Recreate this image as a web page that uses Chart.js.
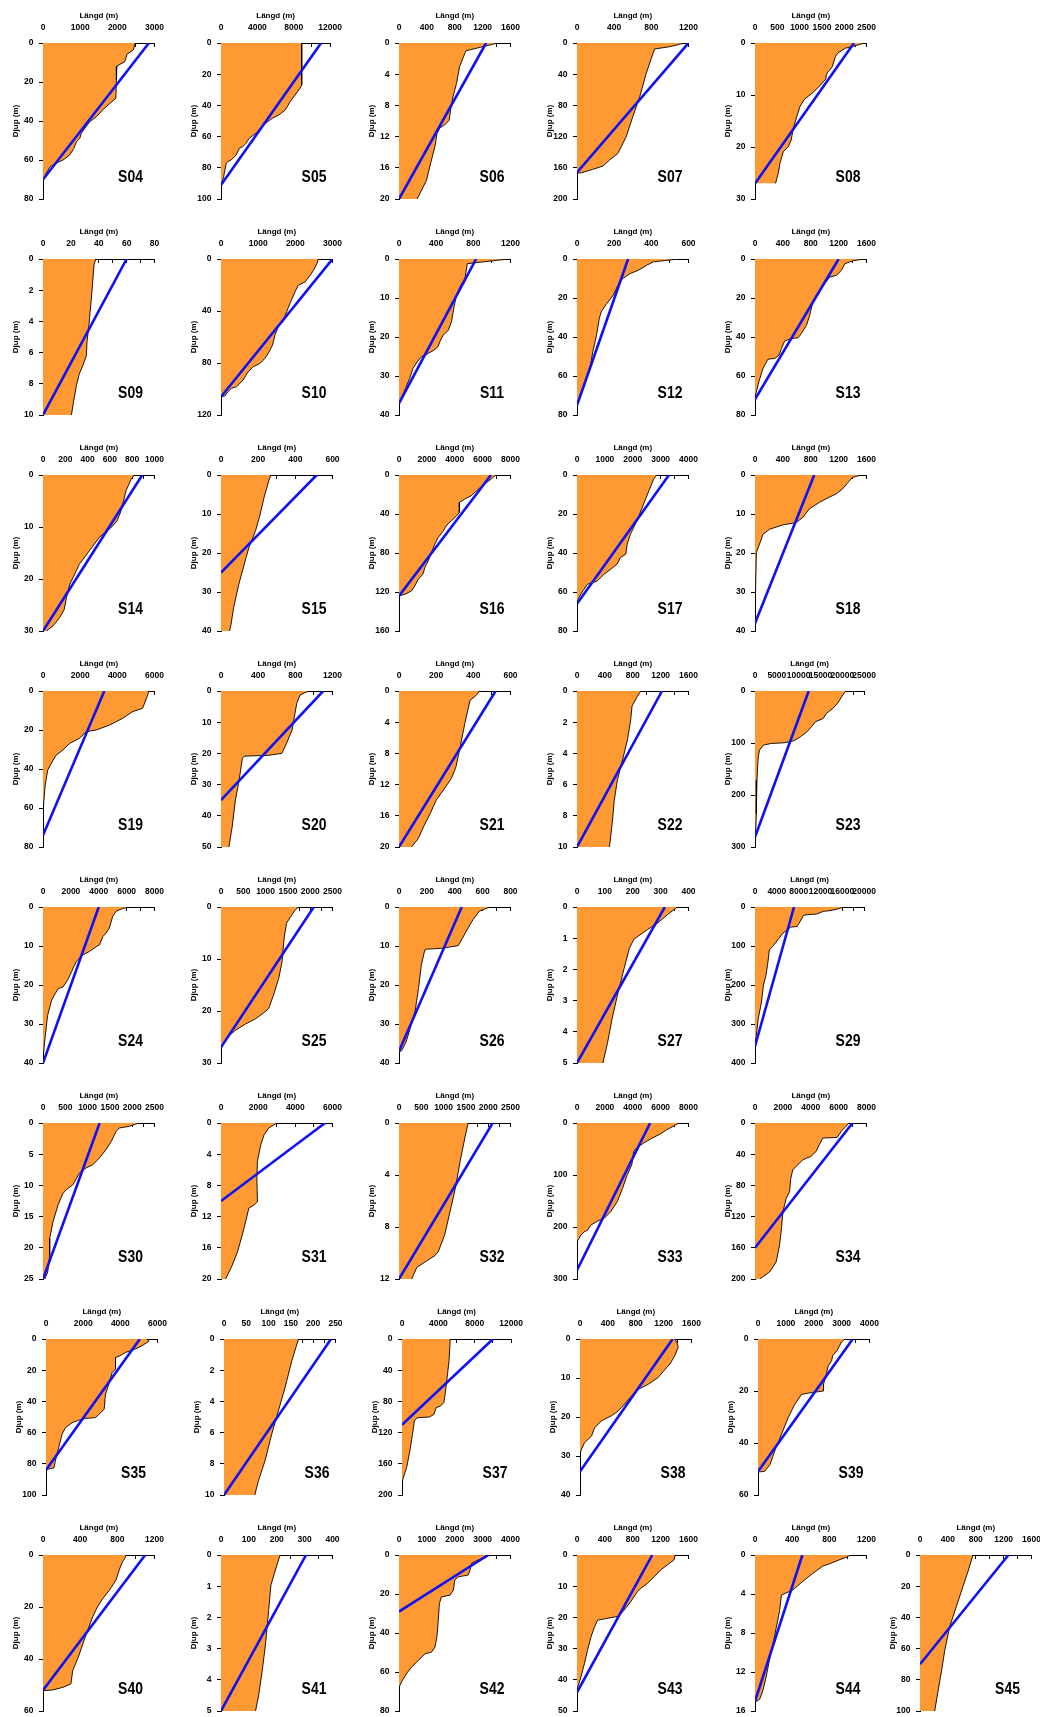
<!DOCTYPE html>
<html>
<head>
<meta charset="utf-8">
<script src="https://cdn.jsdelivr.net/npm/chart.js@4.4.1/dist/chart.umd.min.js"></script>
<style>
html, body { margin: 0; padding: 0; background: #fff; }
body { width: 1040px; height: 1717px; position: relative; overflow: hidden; }
canvas { position: absolute; }
</style>
</head>
<body>
<script>
// station order, left to right, top to bottom
const stations = ['S04', 'S05', 'S06', 'S07', 'S08',
    'S09', 'S10', 'S11', 'S12', 'S13',
    'S14', 'S15', 'S16', 'S17', 'S18',
    'S19', 'S20', 'S21', 'S22', 'S23',
    'S24', 'S25', 'S26', 'S27', 'S29',
    'S30', 'S31', 'S32', 'S33', 'S34',
    'S35', 'S36', 'S37', 'S38', 'S39',
    'S40', 'S41', 'S42', 'S43', 'S44', 'S45'];

// axis ranges (Längd = x, Djup = y)
const xMax = [3000, 12000, 1600, 1200, 2500, 80, 3000, 1200, 600, 1600,
    1000, 600, 8000, 4000, 1600, 6000, 1200, 600, 1600, 25000,
    8000, 2500, 800, 400, 20000, 2500, 6000, 2500, 8000, 8000,
    6000, 250, 12000, 1600, 4000, 1200, 400, 4000, 1600, 1200, 1600];
const xLabelStep = [1000, 4000, 400, 400, 500, 20, 1000, 400, 200, 400,
    200, 200, 2000, 1000, 400, 2000, 400, 200, 400, 5000,
    2000, 500, 200, 100, 4000, 500, 2000, 500, 2000, 2000,
    2000, 50, 4000, 400, 1000, 400, 100, 1000, 400, 400, 400];
const yMax = [80, 100, 20, 200, 30, 10, 120, 40, 80, 80,
    30, 40, 160, 80, 40, 80, 50, 20, 10, 300,
    40, 30, 40, 5, 400, 25, 20, 12, 300, 200,
    100, 10, 200, 40, 60, 60, 5, 80, 50, 16, 100];
const yStep = [20, 20, 4, 40, 10, 2, 40, 10, 20, 20,
    10, 10, 40, 20, 10, 20, 10, 4, 2, 100,
    10, 10, 10, 1, 100, 5, 4, 4, 100, 40,
    20, 2, 40, 10, 20, 20, 1, 20, 10, 4, 20];

// blue line: length at the surface, depth where it meets the axis
const blueTop = [2850, 11000, 1250, 1200, 2220, 60, 3000, 830, 275, 1200,
    890, 515, 6600, 3300, 850, 3300, 1100, 520, 1220, 12300,
    4000, 2080, 450, 315, 7150, 1270, 5600, 2100, 5250, 7000,
    5050, 240, 10000, 1330, 3400, 1100, 305, 3200, 1080, 510, 1270];
const blueDepth = [70, 91, 20, 166, 27, 10, 106, 37, 75, 72,
    30, 25, 124, 66, 38, 74, 35, 20, 10, 281,
    40, 27, 37, 5, 357, 25, 10, 12, 283, 160,
    84, 10, 110, 34, 51, 52, 5, 29, 44, 15, 70];

// length (m) at depth (m) for each station
const S04_depth = [0, 3.6, 5.8, 9.6, 11.8, 19, 28.4, 31, 34, 37.8, 40.3, 46.3, 48.9, 50.6, 54, 57.4, 60, 62, 63.7, 66.8, 70];
const S04_length = [2480, 2430, 2260, 2200, 1990, 1975, 1960, 1800, 1620, 1440, 1260, 1030, 990, 900, 830, 720, 540, 310, 180, 90, 0];
const S05_depth = [0, 26.9, 29, 33.3, 37.6, 43, 46.2, 48.3, 51.5, 54.7, 57.9, 61.1, 64.3, 66.5, 67.5, 71.8, 75, 76, 77.1, 85.7, 91];
const S05_length = [8870, 8870, 8690, 8150, 7600, 7060, 6340, 5620, 4900, 4360, 3820, 3100, 2740, 2380, 2020, 1660, 1120, 760, 580, 290, 0];
const S06_depth = [0, 1.0, 3.0, 5.2, 6.9, 8.6, 9.9, 10.5, 10.9, 11.6, 13.3, 15.9, 17.6, 20];
const S06_length = [1420, 960, 870, 825, 775, 740, 720, 655, 585, 545, 515, 440, 395, 260];
const S07_depth = [0, 4.7, 7.7, 19.7, 38.9, 68.8, 94.5, 120, 141.5, 150, 157.7, 162, 166.3, 167];
const S07_length = [1160, 1000, 835, 800, 745, 675, 600, 530, 440, 350, 280, 170, 50, 0];
const S08_depth = [0, 0.4, 1.0, 1.9, 2.6, 4.6, 5.8, 7.0, 8.5, 9.7, 10.8, 12.2, 14.2, 16.4, 18.7, 19.9, 20.9, 23.1, 25.1, 27];
const S08_length = [2450, 2300, 2030, 1860, 1805, 1730, 1615, 1580, 1425, 1275, 1110, 1010, 935, 860, 810, 750, 635, 560, 520, 460];
const S09_depth = [0, 0.4, 2.5, 4.2, 5.3, 6.2, 6.8, 7.4, 8.1, 9.1, 10];
const S09_length = [37.8, 36.6, 34.7, 33, 31.6, 31.1, 28.7, 25.9, 24, 22, 20.4];
const S10_depth = [0, 3.6, 8.7, 12.5, 17.7, 20.2, 25.3, 34.3, 40.7, 48.4, 52.2, 58.6, 66.3, 72.7, 76.5, 80.4, 82.9, 86.8, 93.1, 98.3, 99.5, 102, 105.4, 106];
const S10_length = [2620, 2580, 2490, 2400, 2260, 2080, 1990, 1855, 1765, 1660, 1540, 1450, 1385, 1270, 1180, 1045, 865, 730, 595, 415, 280, 190, 100, 0];
const S11_depth = [0, 1.2, 5.0, 7.2, 9.3, 11.9, 16.1, 18.3, 19.5, 21.2, 22.5, 23.4, 24.2, 25.1, 26.4, 28.1, 30.6, 33.2, 35.7, 37];
const S11_length = [1180, 735, 710, 655, 620, 595, 565, 530, 475, 440, 420, 375, 315, 240, 195, 150, 115, 70, 25, 0];
const S12_depth = [0, 1.5, 3.2, 5.8, 7.5, 10.1, 13.5, 18.6, 22.9, 27.1, 30.5, 39.1, 47.6, 56.1, 64.7, 71.5, 74];
const S12_length = [545, 410, 375, 330, 285, 245, 220, 195, 160, 130, 120, 105, 85, 70, 40, 15, 0];
const S13_depth = [0, 0.85, 2.4, 5.8, 8.4, 9.2, 13.5, 18.6, 22.9, 28.8, 33.9, 38.2, 40.4, 40.8, 42.1, 45.9, 49.3, 51, 51.4, 56.1, 63, 68, 71];
const S13_length = [1570, 1410, 1290, 1240, 1170, 1075, 975, 880, 825, 785, 740, 665, 620, 520, 425, 380, 345, 285, 185, 115, 55, 20, 0];
const S14_depth = [0, 0.8, 3.0, 6.9, 8.8, 9.8, 10.4, 12, 14.6, 17.2, 19.7, 21, 23.6, 25.9, 27.4, 29, 30];
const S14_length = [820, 790, 745, 700, 665, 625, 595, 505, 415, 325, 270, 240, 210, 190, 150, 90, 30];
const S15_depth = [0, 1.5, 5.7, 10, 14.3, 18.6, 22.9, 28, 34, 38.3, 40];
const S15_length = [268, 257, 232, 211, 186, 150, 125, 96, 68, 54, 46];
const S16_depth = [0, 4.1, 9.3, 16.1, 21.2, 24.7, 28.1, 38.4, 41.8, 46.9, 52.1, 57.2, 64.1, 70.9, 79.5, 88, 94.9, 101.8, 106.9, 113.7, 118.9, 122.3, 124];
const S16_length = [6950, 6620, 6140, 5570, 5190, 4710, 4330, 4330, 4140, 3760, 3380, 3190, 2810, 2570, 2330, 2100, 1860, 1710, 1380, 1140, 900, 430, 0];
const S17_depth = [0, 2.1, 8.1, 14.9, 23.5, 30.3, 35.5, 40.6, 42.3, 45.7, 48.3, 50.9, 54.3, 55.2, 56, 59.4, 62.9, 65.4];
const S17_length = [2860, 2750, 2580, 2390, 2150, 1920, 1800, 1750, 1560, 1440, 1210, 970, 730, 570, 380, 210, 70, 0];
const S18_depth = [0, 0.6, 1.9, 3.6, 4.9, 5.7, 7.0, 8.7, 10.9, 12.2, 12.8, 13.9, 15.2, 17.7, 19.9, 29.7, 33];
const S18_length = [1530, 1400, 1335, 1255, 1160, 1065, 925, 780, 685, 590, 400, 210, 115, 65, 20, 8, 0];
const S19_depth = [0, 2.9, 8.9, 10.6, 14, 17.5, 20, 20.9, 24.3, 26.9, 30.3, 32.9, 35.5, 40.6, 49.2, 57.7, 69.7];
const S19_length = [5700, 5600, 5360, 4820, 4290, 3570, 2860, 2320, 1960, 1430, 1070, 710, 540, 250, 110, 35, 0];
const S20_depth = [0, 1.3, 4, 12.5, 16.8, 20, 20.6, 20.8, 20.9, 21.6, 28.6, 35, 43.6, 50];
const S20_length = [945, 850, 815, 765, 705, 655, 515, 335, 250, 230, 195, 155, 120, 85];
const S21_depth = [0, 0.5, 1.2, 4.2, 7.2, 9.7, 11.2, 12.7, 14, 15.7, 17.4, 18.9, 20];
const S21_length = [432, 418, 382, 354, 329, 307, 282, 239, 200, 168, 132, 104, 68];
const S22_depth = [0, 0.36, 0.96, 1.86, 3.1, 4.4, 5.7, 7.0, 8.5, 10];
const S22_length = [915, 865, 790, 770, 725, 655, 580, 535, 505, 465];
const S23_depth = [0, 7.7, 23.8, 33.4, 43, 52.7, 59.1, 68.7, 78.4, 88, 95.7, 99.6, 100.9, 104, 113.7, 126.6, 171.5, 235.8, 274, 287];
const S23_length = [20800, 20100, 18900, 17860, 16370, 15630, 13840, 12950, 11900, 10420, 8930, 6700, 3720, 1930, 1040, 740, 450, 300, 150, 0];
const S24_depth = [0, 0.4, 1.1, 2.4, 5.4, 6.7, 7.6, 9.7, 10.2, 11.4, 12.3, 14, 16.6, 18.8, 20.5, 20.9, 22.6, 23.9, 27.8, 33.8, 37.2, 39.8];
const S24_length = [6200, 5710, 5240, 5000, 4760, 4520, 4290, 4050, 3810, 3330, 2860, 2380, 2050, 1760, 1430, 1100, 810, 620, 330, 140, 50, 0];
const S25_depth = [0, 0.5, 1.5, 3.1, 6.0, 10.5, 13.7, 17, 19.5, 20.3, 21.5, 22.5, 23.7, 25, 27];
const S25_length = [1740, 1670, 1590, 1470, 1415, 1370, 1295, 1175, 1070, 965, 775, 550, 325, 150, 0];
const S26_depth = [0, 1.1, 3.3, 5.4, 8.0, 9.9, 10.2, 10.6, 10.8, 11, 14.9, 20.9, 26.9, 31.2, 34.7, 36.8, 37.2];
const S26_length = [650, 575, 530, 495, 455, 425, 375, 305, 200, 185, 160, 140, 115, 80, 50, 20, 0];
const S27_depth = [0, 0.25, 0.52, 0.73, 0.95, 1.02, 1.32, 1.97, 2.83, 3.58, 4.33, 5];
const S27_length = [360, 324, 288, 252, 217, 205, 188, 169, 145, 126, 110, 93];
const S29_depth = [0, 5.2, 9.5, 11.2, 18.1, 19.8, 21.5, 41.3, 49.9, 51.6, 67.1, 84.3, 101.5, 110.1, 140.2, 174.6, 200.4, 243.4, 286.5, 329.5, 355];
const S29_length = [16300, 15100, 13700, 12500, 11300, 9500, 8900, 8100, 7700, 6550, 5100, 4170, 3210, 2620, 2380, 2020, 1550, 1190, 600, 240, 0];
const S30_depth = [0, 0.54, 0.8, 1.34, 2.95, 4.3, 5.6, 6.7, 7.2, 8.0, 9.9, 10.7, 11.3, 13.1, 15.8, 18.5, 21.2, 23.9, 25];
const S30_length = [2150, 1930, 1710, 1640, 1530, 1410, 1265, 1115, 965, 820, 670, 520, 445, 340, 225, 150, 150, 105, 40];
const S31_depth = [0, 0.64, 1.5, 2.8, 4.9, 7.1, 10.1, 10.5, 10.9, 12.7, 14.4, 16.5, 18.2, 20];
const S31_length = [3000, 2570, 2320, 2140, 1960, 1930, 1960, 1790, 1500, 1320, 1140, 890, 610, 250];
const S32_depth = [0, 1.16, 2.96, 5.0, 6.8, 8.6, 9.9, 10.2, 10.7, 11.1, 12];
const S32_length = [1550, 1475, 1370, 1265, 1145, 1025, 880, 805, 580, 400, 285];
const S33_depth = [0, 6.4, 12.9, 21.2, 29, 38.6, 47, 54.7, 80.5, 99.8, 125.5, 151.3, 170.6, 183.5, 188.6, 196.4, 206, 209.2, 215.7, 228.5];
const S33_length = [7300, 6910, 6440, 5970, 5400, 4780, 4310, 4070, 3930, 3600, 3270, 2890, 2410, 1940, 1470, 990, 760, 520, 280, 0];
const S34_depth = [0, 4.3, 10.7, 18.5, 19.3, 27.9, 36.5, 42.9, 47.2, 55.8, 60.1, 70.8, 88, 96.6, 113.7, 135.2, 156.7, 178.1, 191, 200];
const S34_length = [6750, 6520, 6190, 5900, 4860, 4620, 4380, 4000, 3430, 2950, 2710, 2570, 2480, 2240, 2000, 1900, 1760, 1520, 1050, 330];
const S35_depth = [0, 1.5, 4.3, 6.4, 8.6, 10.7, 11.8, 19.3, 21.5, 29, 35.4, 45.1, 48.3, 50.4, 50.9, 52.1, 53.7, 56.9, 61.2, 69.7, 78.3, 82.6, 83.7];
const S35_length = [5450, 5530, 5170, 4820, 4280, 3990, 3740, 3740, 3560, 3380, 3200, 3130, 2840, 2660, 2120, 1760, 1400, 1040, 860, 680, 500, 430, 0];
const S36_depth = [0, 1.4, 3.1, 4.6, 6.1, 7.8, 9.1, 10];
const S36_length = [167, 152, 137, 122, 107, 92, 77, 69];
const S37_depth = [0, 27.9, 49.4, 70.8, 81.5, 85.8, 88, 96.6, 100, 100.9, 104.3, 122.3, 143.8, 165.2, 178.1, 184.6];
const S37_length = [5300, 5170, 4960, 4740, 4600, 4240, 3740, 3520, 3020, 1730, 1370, 1150, 860, 500, 140, 0];
const S38_depth = [0, 0.9, 2.1, 4.3, 6.4, 8.2, 9.9, 11.6, 12.9, 14.6, 16.7, 18.5, 19.7, 21, 21.9, 22.7, 24.9, 26.6, 28.3, 29.6];
const S38_length = [1360, 1390, 1410, 1360, 1290, 1200, 1120, 980, 835, 740, 640, 545, 450, 305, 260, 210, 165, 65, 20, 0];
const S39_depth = [0, 1.3, 4.5, 6.4, 8.4, 10.3, 14.2, 17.4, 20, 20.6, 21.3, 25.1, 30.3, 36.7, 43.1, 48.3, 50.9, 51.1, 51.3];
const S39_length = [3110, 2990, 2830, 2680, 2640, 2520, 2440, 2350, 2350, 1920, 1560, 1320, 1080, 840, 600, 430, 240, 50, 0];
const S40_depth = [0, 1.3, 2.6, 5.8, 9.7, 13.5, 16.7, 20, 23.8, 29, 34.1, 39.3, 44.4, 49.6, 50.9, 51.9, 52.2];
const S40_length = [895, 880, 855, 820, 785, 715, 645, 585, 535, 480, 430, 380, 320, 300, 215, 105, 0];
const S41_depth = [0, 0.48, 0.97, 1.77, 2.84, 3.7, 4.45, 5];
const S41_length = [212, 195, 179, 171, 160, 148, 136, 124];
const S42_depth = [0, 1.7, 2.6, 4.3, 7.7, 10.3, 11.2, 12.9, 18, 20.6, 21.5, 24.9, 35.2, 42.1, 47.2, 49.8, 50.7, 54.1, 57.5, 61, 64.4, 67.8];
const S42_length = [3250, 3070, 2830, 2600, 2550, 2480, 2120, 2000, 1950, 1830, 1520, 1450, 1400, 1360, 1290, 1170, 930, 690, 450, 260, 120, 0];
const S43_depth = [0, 1.6, 3.2, 4.8, 7.0, 9.1, 10.7, 11.8, 15, 17.7, 19.6, 19.9, 20.4, 20.9, 23.1, 26.3, 30.6, 34.9, 39.2, 42.4, 43.5];
const S43_length = [1410, 1390, 1295, 1200, 1105, 1010, 915, 865, 770, 675, 600, 535, 410, 295, 250, 200, 150, 105, 55, 10, 0];
const S44_depth = [0, 0.24, 0.5, 0.86, 1.13, 1.9, 2.7, 3.6, 4.1, 5.7, 7.4, 9.1, 10.8, 12.5, 13.9, 14.8, 15.1];
const S44_length = [1030, 980, 905, 815, 730, 620, 515, 405, 285, 265, 230, 195, 155, 120, 85, 50, 0];
const S45_depth = [0, 9.7, 20.4, 33.3, 46.1, 61.2, 74, 86.9, 99.8, 100];
const S45_length = [760, 695, 615, 520, 425, 355, 310, 260, 212, 210];

const depthSets = [S04_depth, S05_depth, S06_depth, S07_depth, S08_depth, S09_depth, S10_depth, S11_depth, S12_depth, S13_depth,
    S14_depth, S15_depth, S16_depth, S17_depth, S18_depth, S19_depth, S20_depth, S21_depth, S22_depth, S23_depth,
    S24_depth, S25_depth, S26_depth, S27_depth, S29_depth, S30_depth, S31_depth, S32_depth, S33_depth, S34_depth,
    S35_depth, S36_depth, S37_depth, S38_depth, S39_depth, S40_depth, S41_depth, S42_depth, S43_depth, S44_depth, S45_depth];
const lengthSets = [S04_length, S05_length, S06_length, S07_length, S08_length, S09_length, S10_length, S11_length, S12_length, S13_length,
    S14_length, S15_length, S16_length, S17_length, S18_length, S19_length, S20_length, S21_length, S22_length, S23_length,
    S24_length, S25_length, S26_length, S27_length, S29_length, S30_length, S31_length, S32_length, S33_length, S34_length,
    S35_length, S36_length, S37_length, S38_length, S39_length, S40_length, S41_length, S42_length, S43_length, S44_length, S45_length];

var FONT = '"Liberation Sans", Arial, Helvetica, sans-serif';
var ORANGE = '#FF9933';
var BLUE = '#1010F5';
// plot-area corners on the page
var colLeft = [43, 221, 399, 577, 755, 920];
var rowTop = [43, 259, 475, 691, 907, 1123, 1339, 1555];
var PLOT_W = 111.5, PLOT_H = 156, CELL_W = 178, CELL_H = 216, AX = 43;

function isMultiple(v, step) {
    var r = v / step;
    return Math.abs(r - Math.round(r)) < 1e-6;
}

// station name in the lower right of the plot
var stationLabel = {
    id: 'stationLabel',
    afterDraw: function (chart, args, opts) {
        var ctx = chart.ctx, a = chart.chartArea;
        ctx.save();
        ctx.translate(a.left + opts.dx, a.top + 139);
        ctx.scale(0.82, 1);
        ctx.font = 'bold 17px ' + FONT;
        ctx.fillStyle = '#000';
        ctx.textAlign = 'center';
        ctx.textBaseline = 'alphabetic';
        ctx.fillText(opts.text, 0, 0);
        ctx.restore();
    }
};

function drawPanel(cv, i, col) {
    var depths = depthSets[i], lengths = lengthSets[i];
    var curve = depths.map(function (d, k) { return {x: lengths[k], y: d}; });
    var cone = [{x: blueTop[i], y: 0}, {x: 0, y: blueDepth[i]}];
    var labStep = xLabelStep[i];

    new Chart(cv, {
        type: 'line',
        data: {
            datasets: [
                {
                    data: cone,
                    borderColor: BLUE,
                    borderWidth: 2.6,
                    pointRadius: 0,
                    fill: false,
                    order: 0
                },
                {
                    data: curve,
                    borderColor: '#000',
                    borderWidth: 0.9,
                    backgroundColor: ORANGE,
                    pointRadius: 0,
                    tension: 0,
                    fill: 'origin',
                    order: 1
                }
            ]
        },
        options: {
            indexAxis: 'y',
            responsive: false,
            animation: false,
            events: [],
            layout: {
                padding: {left: 0, top: 0, right: CELL_W - AX - PLOT_W, bottom: CELL_H - AX - PLOT_H}
            },
            plugins: {
                legend: {display: false},
                tooltip: {enabled: false},
                stationLabel: {text: stations[i], dx: (col === 0 || col === 5) ? 87.5 : 93}
            },
            scales: {
                x: {
                    type: 'linear',
                    position: 'top',
                    min: 0,
                    max: xMax[i],
                    border: {display: true, color: '#000', width: 1},
                    grid: {drawOnChartArea: false, drawTicks: true, tickLength: -4, color: '#000', lineWidth: 1},
                    ticks: {
                        stepSize: labStep / 2,
                        autoSkip: false,
                        maxRotation: 0,
                        minRotation: 0,
                        maxTicksLimit: 100,
                        padding: 14,
                        color: '#000',
                        font: {family: FONT, size: 8.5, weight: 'bold'},
                        callback: function (v) { return isMultiple(v, labStep) ? String(v) : ''; }
                    },
                    title: {
                        display: true,
                        text: 'Längd (m)',
                        color: '#000',
                        font: {family: FONT, size: 8, weight: 'bold'},
                        padding: {top: 11, bottom: 0}
                    },
                    afterFit: function (s) { s.height = AX; }
                },
                y: {
                    type: 'linear',
                    reverse: true,
                    min: 0,
                    max: yMax[i],
                    border: {display: true, color: '#000', width: 1},
                    grid: {drawOnChartArea: false, drawTicks: true, tickLength: 4, color: '#000', lineWidth: 1},
                    ticks: {
                        stepSize: yStep[i],
                        autoSkip: false,
                        maxTicksLimit: 100,
                        padding: 5.5,
                        color: '#000',
                        font: {family: FONT, size: 8.5, weight: 'bold'},
                        callback: function (v) { return String(v); }
                    },
                    title: {
                        display: true,
                        text: 'Djup (m)',
                        color: '#000',
                        font: {family: FONT, size: 8, weight: 'bold'},
                        padding: {top: 11, bottom: 0}
                    },
                    afterFit: function (s) { s.width = AX; }
                }
            }
        },
        plugins: [stationLabel]
    });
}

stations.forEach(function (name, i) {
    var row = Math.min(Math.floor(i / 5), 7);
    var col = i - row * 5;
    var left = colLeft[col] + (row === 6 ? 3 : 0);
    var top = rowTop[row];
    var cv = document.createElement('canvas');
    cv.width = CELL_W;
    cv.height = CELL_H;
    cv.style.left = (left - AX) + 'px';
    cv.style.top = (top - AX) + 'px';
    cv.style.width = CELL_W + 'px';
    cv.style.height = CELL_H + 'px';
    document.body.appendChild(cv);
    drawPanel(cv, i, col);
});
</script>
</body>
</html>
